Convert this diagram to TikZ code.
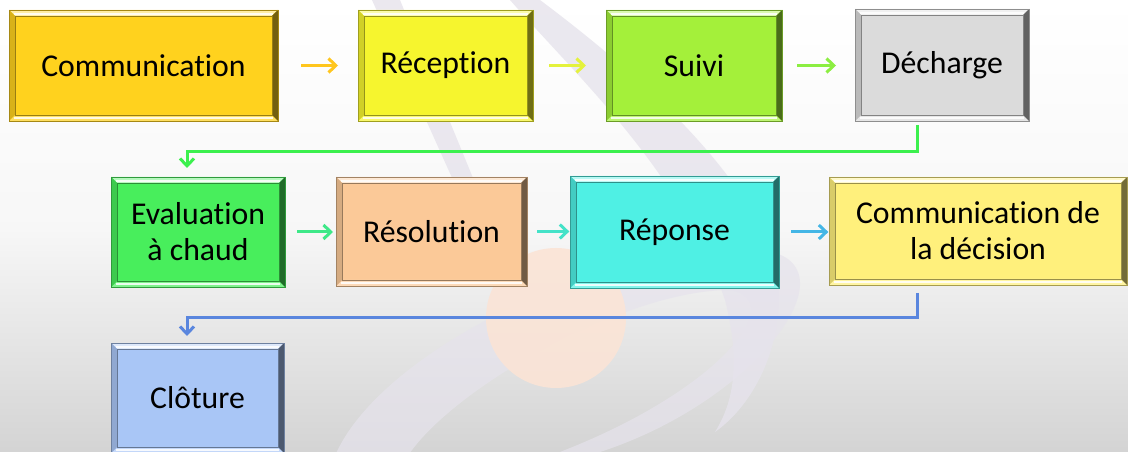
\documentclass[tikz,border=0pt]{standalone}
\usepackage{fontspec}
\setmainfont{Carlito}[Ligatures=CommonOff]
\usetikzlibrary{arrows.meta}
\definecolor{cComm}{HTML}{FFD21E}
\definecolor{cRecep}{HTML}{F6F52E}
\definecolor{cSuivi}{HTML}{A4F03A}
\definecolor{cDech}{HTML}{DBDBDB}
\definecolor{cEval}{HTML}{48EE5C}
\definecolor{cResol}{HTML}{FBC998}
\definecolor{cRepon}{HTML}{4FF0E4}
\definecolor{cCdd}{HTML}{FFF07C}
\definecolor{cClot}{HTML}{A9C6F6}
\definecolor{aOne}{HTML}{FFC61E}
\definecolor{aTwo}{HTML}{E4F23C}
\definecolor{aThree}{HTML}{8CEE42}
\definecolor{aFour}{HTML}{3EE888}
\definecolor{aFive}{HTML}{44E2C8}
\definecolor{aSix}{HTML}{44B6E6}
\definecolor{eGreen}{HTML}{3CF04E}
\definecolor{eBlue}{HTML}{5A86DE}
\definecolor{lav}{HTML}{E6E3EC}
\definecolor{peach}{HTML}{FBE4D6}
\newcommand\bevbox[6]{%
  \node[bx=#5, minimum width={#3*0.75pt}, minimum height={#4*0.75pt}] (#1) at (#2) {#6};
  \fill[#5!40!white] (#1.north west) -- (#1.north east) -- ([shift={(-6,6)}]#1.north east) -- ([shift={(6,6)}]#1.north west) -- cycle;
  \fill[#5!70!white] (#1.south west) -- (#1.south east) -- ([shift={(-6,-6)}]#1.south east) -- ([shift={(6,-6)}]#1.south west) -- cycle;
  \fill[#5!85!black] (#1.north west) -- ([shift={(6,6)}]#1.north west) -- ([shift={(6,-6)}]#1.south west) -- (#1.south west) -- cycle;
  \fill[#5!45!black] (#1.north east) -- ([shift={(-6,6)}]#1.north east) -- ([shift={(-6,-6)}]#1.south east) -- (#1.south east) -- cycle;
  \draw[white, line width=0.9pt, opacity=0.85] ([shift={(5,4)}]#1.north west) -- ([shift={(-5,4)}]#1.north east);
  \draw[white, line width=0.9pt, opacity=0.85] ([shift={(5,-3)}]#1.south west) -- ([shift={(-5,-3)}]#1.south east);
  \draw[#5!60!black, line width=0.5pt] ([shift={(6,6)}]#1.north west) rectangle ([shift={(-6,-6)}]#1.south east);
  \draw[#5!65!black, line width=0.5pt] (#1.north west) rectangle (#1.south east);
}
\begin{document}
\begin{tikzpicture}[x=0.75pt,y=-0.75pt,
  bx/.style={fill=#1, draw=#1!65!black, line width=0.5pt, inner sep=0pt, outer sep=0pt,
    align=center, text=black, font=\fontsize{23.8pt}{27pt}\selectfont},
  conn/.style={draw=#1, line width=2.25pt, -{Straight Barb[length=5.5pt,width=10.5pt]}}]
\useasboundingbox (0,0) rectangle (1128,452);
\begin{scope}
\clip (0,0) rectangle (1128,452);
% background
\shade[top color=white, bottom color=black!17, middle color=black!3] (0,0) rectangle (1128,452);
\fill[lav, opacity=0.8] (372,0) -- (400,0) -- (482,200) -- (462,200) -- cycle;
\fill[lav, opacity=0.8] (510,0) .. controls (580,80) and (680,170) .. (725,300) .. controls (740,360) and (735,400) .. (715,432)
  .. controls (760,400) and (790,330) .. (775,260) .. controls (740,160) and (620,60) .. (540,0) -- cycle;
\fill[lav, opacity=0.7, even odd rule]
  (330,470) .. controls (360,360) and (600,240) .. (760,250) .. controls (860,260) and (760,400) .. (600,452) -- (540,470) -- cycle
  (400,470) .. controls (430,400) and (620,290) .. (730,290) .. controls (790,300) and (720,390) .. (560,452) -- (520,470) -- cycle;
\fill[peach, opacity=0.9] (556,318) circle (70);
\end{scope}
% boxes
\bevbox{comm}{143.5,65.5}{269}{111}{cComm}{Communication}
\bevbox{recep}{445.5,65.5}{175}{111}{cRecep}{Réception}
\bevbox{suivi}{694,65.5}{176}{111}{cSuivi}{Suivi}
\bevbox{dech}{942,65}{174}{112}{cDech}{Décharge}
\bevbox{eval}{198,232}{174}{110}{cEval}{Evaluation\\à chaud}
\bevbox{resol}{431.5,231.5}{191}{109}{cResol}{Résolution}
\bevbox{repon}{674.5,232}{209}{112}{cRepon}{Réponse}
\bevbox{cdd}{978,231}{298}{108}{cCdd}{Communication de\\la décision}
\bevbox{clot}{197.5,398}{173}{110}{cClot}{Clôture}
% connectors
\draw[conn=aOne, shorten <=17.25pt, shorten >=15pt] (comm.east) -- (comm.east -| recep.west);
\draw[conn=aTwo, shorten <=12pt, shorten >=15pt] (recep.east) -- (recep.east -| suivi.west);
\draw[conn=aThree, shorten <=11.25pt, shorten >=14.25pt] (suivi.east) -- (suivi.east -| dech.west);
\draw[conn=aFour, shorten <=9pt, shorten >=2.25pt] (eval.east) -- (eval.east -| resol.west);
\draw[conn=aFive, shorten <=7.5pt, shorten >=0.5pt] (resol.east) -- (resol.east -| repon.west);
\draw[conn=aSix, shorten <=9pt, shorten >=0.5pt] (repon.east) -- (repon.east -| cdd.west);
\draw[conn=eGreen] ([shift={(-25,4)}]dech.south) -- ++(0,27) -| ([shift={(-11,-9)}]eval.north);
\draw[conn=eBlue] ([shift={(-61,8)}]cdd.south) -- ++(0,25) -| ([shift={(-10.5,-7)}]clot.north);
\end{tikzpicture}
\end{document}
